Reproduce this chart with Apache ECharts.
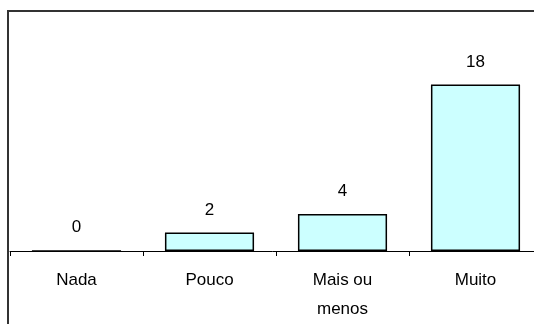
<!DOCTYPE html>
<html>
<head>
<meta charset="utf-8">
<script src="https://cdn.jsdelivr.net/npm/echarts@6/dist/echarts.min.js"></script>
<style>
  html, body { margin: 0; padding: 0; background: #fff; }
  #chart { width: 534px; height: 324px; }
</style>
</head>
<body>
<div id="chart"></div>
<script>
  const categories = ["Nada", "Pouco", "Mais ou\nmenos", "Muito"]
  const values = [0, 2, 4, 18]
  const yMax = 20

  const myChart = echarts.init(document.getElementById("chart"))
  const option = {
    animation: false,
    grid: {
      left: 10,
      width: 532,
      top: 66,
      height: 185,
      outerBoundsMode: "none",
    },
    xAxis: {
      type: "category",
      data: categories,
      axisLine: {
        lineStyle: { color: "#000", width: 1 },
      },
      axisTick: {
        show: true,
        length: 5,
        lineStyle: { color: "#000" },
      },
      axisLabel: {
        color: "#000",
        fontFamily: "Liberation Sans",
        fontSize: 17,
        lineHeight: 29,
        margin: 15,
        interval: 0,
      },
    },
    yAxis: {
      type: "value",
      min: 0,
      max: yMax,
      show: false,
    },
    series: [
      {
        type: "bar",
        data: values,
        barWidth: "67%",
        itemStyle: {
          color: "#CCFFFF",
          borderColor: "#000",
          borderWidth: 1.5,
        },
        label: {
          show: true,
          position: "top",
          distance: 14,
          color: "#000",
          fontFamily: "Liberation Sans",
          fontSize: 17,
        },
      },
    ],
    graphic: [
      {
        type: "polyline",
        shape: { points: [[8, 324], [8, 11], [534, 11]] },
        style: { stroke: "#333", lineWidth: 2, fill: null },
      },
    ],
  }
  myChart.setOption(option)
</script>
</body>
</html>
